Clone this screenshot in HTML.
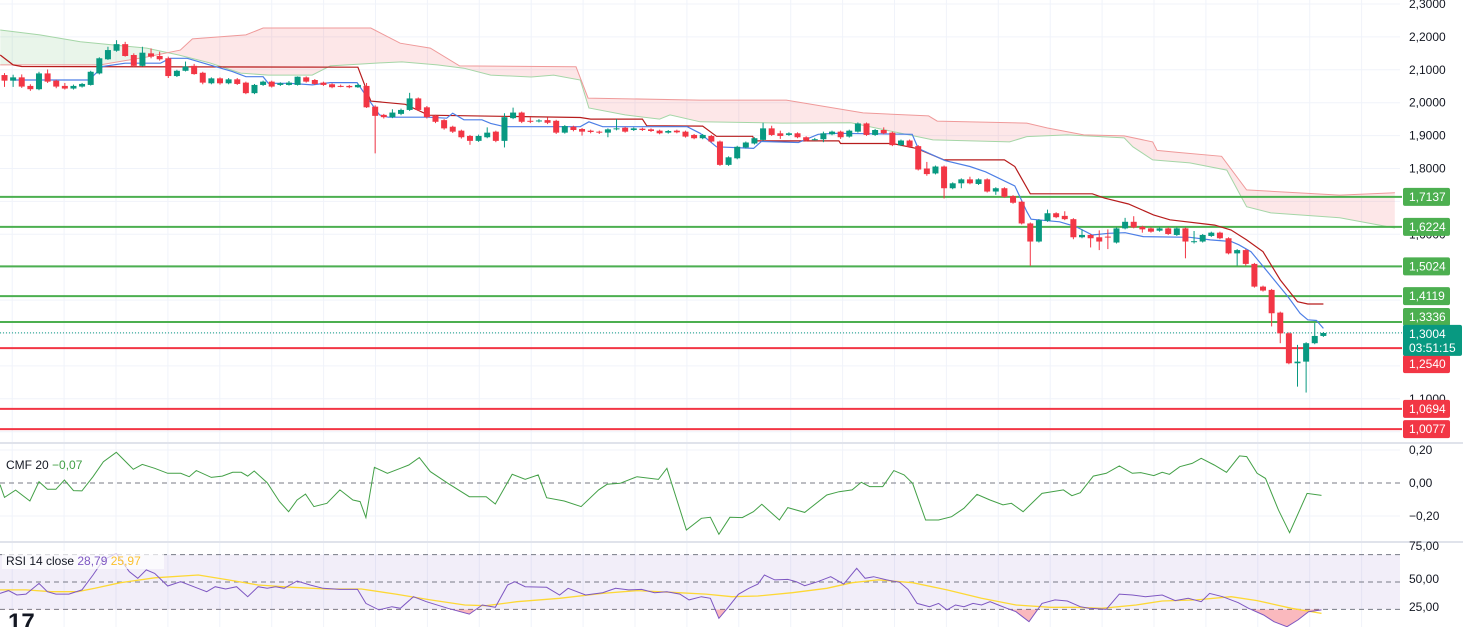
<!DOCTYPE html>
<html><head><meta charset="utf-8"><style>
html,body{margin:0;padding:0;background:#fff;width:1463px;height:627px;overflow:hidden}
svg{display:block;font-family:"Liberation Sans",sans-serif}
</style></head><body>
<svg id="chart" width="1463" height="627" viewBox="0 0 1463 627" xmlns="http://www.w3.org/2000/svg">
<defs>
<clipPath id="mainClip"><rect x="0" y="0" width="1400" height="443"/></clipPath>
<clipPath id="cmfClip"><rect x="0" y="444" width="1400" height="98"/></clipPath>
<clipPath id="rsiClip"><rect x="0" y="543" width="1400" height="84"/></clipPath>
</defs>
<g id="grid"></g>
<g id="cloud" clip-path="url(#mainClip)"></g>
<g id="levels"></g>
<g id="lines" clip-path="url(#mainClip)"></g>
<g id="candles" clip-path="url(#mainClip)"></g>
<g id="cmf"></g>
<g id="rsi"></g>
<g id="axis"></g>
<text x="6" y="469" font-size="12" fill="#131722">CMF 20 <tspan fill="#43a047">−0,07</tspan></text>
<rect x="2" y="551" width="162" height="18" fill="#fff" opacity="0.7"/>
<text x="6" y="565" font-size="12" fill="#131722">RSI 14 close <tspan fill="#7e57c2">28,79</tspan> <tspan fill="#fbc02d">25,97</tspan></text>
<text x="8" y="630" font-size="24" font-weight="bold" fill="#131722">17</text>
</svg>
<script>
const O=[2.084,2.067,2.077,2.051,2.041,2.089,2.067,2.051,2.043,2.049,2.054,2.089,2.132,2.158,2.178,2.145,2.112,2.150,2.142,2.135,2.081,2.097,2.112,2.091,2.059,2.074,2.059,2.071,2.061,2.029,2.054,2.064,2.054,2.054,2.054,2.077,2.069,2.061,2.056,2.051,2.051,2.047,2.051,1.988,1.963,1.956,1.966,1.978,2.013,1.986,1.960,1.947,1.927,1.915,1.899,1.884,1.895,1.912,1.884,1.953,1.970,1.945,1.945,1.947,1.945,1.909,1.927,1.920,1.915,1.912,1.909,1.919,1.924,1.917,1.921,1.919,1.915,1.909,1.915,1.912,1.902,1.892,1.899,1.882,1.811,1.831,1.864,1.876,1.887,1.922,1.907,1.902,1.907,1.895,1.889,1.889,1.904,1.912,1.897,1.912,1.937,1.902,1.917,1.909,1.871,1.885,1.868,1.800,1.785,1.806,1.740,1.755,1.767,1.753,1.767,1.730,1.740,1.716,1.699,1.633,1.578,1.641,1.664,1.656,1.646,1.591,1.598,1.591,1.593,1.575,1.618,1.638,1.623,1.618,1.611,1.618,1.598,1.618,1.578,1.578,1.595,1.605,1.588,1.542,1.552,1.510,1.441,1.431,1.362,1.299,1.208,1.213,1.269,1.291];
const C=[2.067,2.077,2.049,2.041,2.089,2.064,2.049,2.043,2.051,2.057,2.094,2.135,2.160,2.178,2.142,2.112,2.152,2.140,2.132,2.081,2.097,2.110,2.087,2.061,2.074,2.059,2.071,2.057,2.029,2.054,2.064,2.049,2.059,2.061,2.079,2.064,2.057,2.054,2.047,2.050,2.047,2.054,1.986,1.960,1.956,1.970,1.978,2.013,1.978,1.956,1.942,1.922,1.912,1.895,1.884,1.899,1.909,1.884,1.956,1.970,1.942,1.944,1.946,1.939,1.909,1.929,1.917,1.912,1.911,1.909,1.919,1.922,1.912,1.922,1.917,1.914,1.907,1.914,1.910,1.897,1.892,1.902,1.882,1.811,1.834,1.866,1.879,1.892,1.922,1.902,1.899,1.907,1.895,1.885,1.889,1.907,1.912,1.895,1.915,1.937,1.902,1.917,1.907,1.871,1.885,1.866,1.797,1.783,1.806,1.740,1.755,1.767,1.755,1.767,1.730,1.740,1.714,1.696,1.633,1.578,1.643,1.664,1.652,1.646,1.591,1.598,1.588,1.578,1.592,1.618,1.638,1.621,1.615,1.608,1.618,1.601,1.618,1.578,1.579,1.598,1.605,1.588,1.542,1.552,1.510,1.441,1.429,1.360,1.299,1.208,1.213,1.269,1.291,1.300];
const H=[2.090,2.085,2.086,2.056,2.094,2.101,2.070,2.060,2.055,2.060,2.097,2.138,2.170,2.190,2.185,2.150,2.170,2.165,2.155,2.140,2.100,2.125,2.118,2.094,2.077,2.077,2.075,2.075,2.064,2.057,2.067,2.067,2.062,2.066,2.080,2.080,2.072,2.064,2.059,2.055,2.054,2.058,2.060,1.992,1.966,1.980,1.982,2.030,2.016,1.990,1.963,1.950,1.930,1.918,1.902,1.903,1.925,1.915,1.968,1.985,1.973,1.955,1.950,1.955,1.948,1.932,1.930,1.923,1.918,1.915,1.922,1.950,1.927,1.925,1.924,1.922,1.918,1.917,1.918,1.915,1.905,1.905,1.902,1.885,1.837,1.869,1.882,1.895,1.939,1.930,1.915,1.910,1.910,1.898,1.893,1.912,1.915,1.915,1.918,1.940,1.940,1.920,1.925,1.912,1.888,1.888,1.871,1.820,1.809,1.809,1.758,1.770,1.775,1.770,1.770,1.743,1.743,1.719,1.702,1.636,1.646,1.675,1.667,1.670,1.649,1.615,1.601,1.612,1.615,1.621,1.650,1.655,1.626,1.621,1.621,1.621,1.621,1.621,1.610,1.601,1.608,1.608,1.591,1.555,1.555,1.513,1.444,1.434,1.365,1.302,1.264,1.272,1.331,1.303];
const L=[2.048,2.048,2.045,2.036,2.038,2.060,2.044,2.040,2.040,2.046,2.052,2.086,2.130,2.155,2.140,2.108,2.110,2.135,2.128,2.075,2.078,2.095,2.085,2.056,2.056,2.055,2.056,2.054,2.026,2.026,2.051,2.046,2.051,2.052,2.052,2.061,2.054,2.051,2.044,2.047,2.044,2.045,1.984,1.846,1.952,1.953,1.962,1.975,1.975,1.952,1.938,1.918,1.908,1.891,1.872,1.881,1.892,1.880,1.864,1.950,1.938,1.938,1.940,1.935,1.905,1.906,1.913,1.900,1.907,1.905,1.895,1.916,1.909,1.914,1.914,1.911,1.904,1.906,1.907,1.894,1.889,1.889,1.879,1.808,1.808,1.828,1.861,1.873,1.884,1.899,1.890,1.899,1.892,1.882,1.886,1.880,1.901,1.890,1.894,1.909,1.899,1.899,1.904,1.868,1.868,1.863,1.794,1.778,1.782,1.709,1.737,1.740,1.752,1.750,1.727,1.720,1.711,1.693,1.630,1.504,1.575,1.638,1.649,1.643,1.585,1.588,1.560,1.552,1.555,1.572,1.615,1.618,1.605,1.605,1.608,1.598,1.595,1.527,1.572,1.575,1.592,1.585,1.539,1.505,1.505,1.438,1.426,1.320,1.269,1.205,1.137,1.119,1.266,1.288];

const tenkanIdx=[1,9.8,11.4,14,18.1,19.2,21.2,23.8,26.4,28,30,30.6,33.1,35.7,37.8,40.9,42.5,43.5,44.5,49.2,51.3,52,53.3,55.4,56.4,58,66.8,67.8,69.4,79.2,80.7,82.6,86.9,87.8,92.1,94.4,96.3,105.3,106,109.1,112,113.8,117.2,118.6,119.1,122.4,124.3,126.2,128.1,130,132.1,137.5,139.9,142.3,143.2,144.6,147,148.9,150.3,151.2,152.2,153];
const tenkanVal=[2.069,2.069,2.110,2.120,2.120,2.135,2.135,2.115,2.095,2.079,2.079,2.059,2.059,2.054,2.061,2.061,2.000,1.963,1.956,1.956,1.953,1.968,1.948,1.948,1.937,1.927,1.927,1.942,1.927,1.927,1.907,1.866,1.861,1.882,1.879,1.904,1.907,1.904,1.861,1.824,1.806,1.790,1.747,1.669,1.646,1.638,1.623,1.598,1.603,1.605,1.593,1.591,1.583,1.578,1.568,1.547,1.471,1.410,1.360,1.340,1.338,1.314];
const kijunIdx=[-0.5,1,2,41,42.5,46.5,49.2,66.8,68,74,74.5,81,82.6,86.8,87,96.8,97,103,105.8,109,116,117.2,119,126.2,127.6,130.4,133.3,135.2,140.4,142.3,144.1,146,148,150,151.2,153];
const kijunVal=[2.145,2.115,2.110,2.108,2.005,1.995,1.962,1.955,1.950,1.950,1.930,1.929,1.898,1.898,1.884,1.884,1.876,1.876,1.861,1.826,1.826,1.806,1.723,1.723,1.710,1.692,1.659,1.644,1.628,1.613,1.583,1.547,1.461,1.395,1.388,1.388];
const spanAIdx=[-0.5,4.1,8.8,16.5,20.2,23.8,27.4,30.6,35.7,37.8,43.6,46.1,50.2,53.3,56.4,61.1,63.7,66.8,67.8,72,76,77.2,80.7,90.2,98.2,107.7,116.6,118.6,123.3,129.9,130.9,133.2,137.5,141.8,144.1,146.9,154.9,161.3];
const spanAVal=[2.221,2.206,2.185,2.166,2.145,2.121,2.090,2.084,2.084,2.112,2.121,2.124,2.115,2.105,2.084,2.078,2.084,2.069,1.984,1.963,1.950,1.963,1.942,1.938,1.939,1.887,1.881,1.897,1.902,1.893,1.866,1.826,1.817,1.795,1.684,1.665,1.650,1.619];
const spanBIdx=[-0.5,11.1,16.5,20.4,21.8,28,30,42.5,45.9,49.4,52.8,66.3,67.7,80.7,90.7,99.6,107.2,108.2,118.6,121,125.2,129.9,133.2,133.7,136.1,141.2,144.1,154.9,161.3];
const spanBVal=[2.115,2.115,2.139,2.160,2.194,2.206,2.227,2.227,2.181,2.166,2.112,2.109,2.014,2.008,2.008,1.969,1.960,1.944,1.938,1.923,1.902,1.899,1.881,1.855,1.849,1.837,1.735,1.719,1.726];

const greenLevels=[1.7137,1.6224,1.5024,1.4119,1.3336];
const redLevels=[1.2540,1.0694,1.0077];
const greenLabels=["1,7137","1,6224","1,5024","1,4119","1,3336"];
const redLabels=["1,2540","1,0694","1,0077"];
const lastPrice=1.3004;
const priceTicks=[2.3,2.2,2.1,2.0,1.9,1.8,1.6,1.1];
const priceTickLabels=["2,3000","2,2000","2,1000","2,0000","1,9000","1,8000","1,6000","1,1000"];

const cmfT=[0,0.7,2.4,4.6,6.0,7.3,8.6,9.9,11.3,12.6,14.3,15.9,17.9,20.5,21.9,23.8,25.8,27.8,29.1,30.2,32.5,34.2,35.8,37.1,38.1,39.1,41.1,43.0,44.4,45.7,47.0,48.3,50.3,52.3,54.3,55.4,56.3,57.6,59.6,61.6,62.9,64.5,66.2,68.9,72.2,74.8,76.2,78.8,80.8,82.8,84.1,86.8,89.4,92.1,93.4,95.4,98.0,101.3,102.6,105.6,107.9,109.3,110.6,112.3,114.2,115.9,117.2,119.9,121.2,123.8,127.2,129.1,131.1,132.5,133.8,135.8,137.5,139.1,140.4,142.4,144.4,146.4,148.3,150.3,152.3,154.3,155.6,157.4,160.3,163.6,164.9,166.2,168.2,170.2,172.2,174.2,175.5,177.5,178.8,179.9,181.5,183.4,184.8,186.8,188.7,190.7,191.8,193.4,194.7,196.7,198.4,201.1,203.3];
const cmfVal=[-0.01,-0.087,-0.043,-0.109,0.008,-0.038,-0.038,0.018,-0.046,-0.048,0.038,0.129,0.186,0.083,0.113,0.089,0.059,0.059,0.038,0.075,0.034,0.042,0.065,0.065,0.042,0.073,0.002,-0.113,-0.174,-0.103,-0.067,-0.143,-0.123,-0.042,-0.103,-0.113,-0.21,0.095,0.059,0.089,0.109,0.154,0.069,-0.002,-0.083,-0.083,-0.127,0.053,0.022,0.049,-0.089,-0.109,-0.143,-0.042,-0.008,-0.002,0.038,0.022,0.089,-0.285,-0.214,-0.208,-0.311,-0.208,-0.21,-0.174,-0.129,-0.224,-0.149,-0.178,-0.073,-0.053,-0.042,0.004,-0.022,-0.022,0.075,0.049,-0.002,-0.224,-0.224,-0.204,-0.153,-0.069,-0.103,-0.133,-0.123,-0.174,-0.063,-0.042,-0.077,-0.059,0.042,0.059,0.103,0.059,0.063,0.045,0.065,0.053,0.099,0.119,0.15,0.109,0.065,0.164,0.16,0.059,0.028,-0.164,-0.301,-0.063,-0.075];

const rsiT=[0,1.3,2.6,4,6,7.3,8.6,10.6,12.6,14.3,15.9,17.9,19.9,21.2,22.5,23.8,25.8,27.8,29.8,31.8,33.1,34.7,36.4,38.1,39.7,41.1,42.4,43.7,45.7,47.7,49.7,52.3,55,56.3,58.3,60.3,61.6,63.6,65.6,68.9,72.2,74.2,76.2,78.1,79.2,80.8,84.1,86.1,87.4,90.1,92.7,94.7,96.7,98.7,100.7,102.6,104.6,106,107.9,109.3,110.6,111.9,113.6,115.2,116.6,117.6,119.2,121.2,122.5,123.8,125.8,127.8,129.8,131.8,133.1,134.4,136.4,138.4,139.7,141.1,143.0,144.4,145.7,147.0,148.3,149.7,151.0,152.3,153.6,154.9,156.3,158.3,160.3,162.3,164.2,166.2,167.5,170.2,172.2,174.2,176.2,178.8,180.8,182.8,184.8,186.1,188.1,190.5,192.1,194.4,196.0,198.0,199.7,201.3,203.3];
const rsiVal=[41.7,43.7,40.5,41.2,49.0,42.9,41.2,41.2,44.2,55.1,66.1,70.9,57.5,52.7,58.8,56.3,47.1,50.2,46.6,42.9,46.6,44.9,46.6,39.3,46.6,45.4,46.6,45.4,50.7,47.8,45.4,44.6,44.6,34.4,29.6,32.0,30.8,39.3,35.6,30.8,26.6,33.2,31.5,47.8,50.2,46.6,46.1,40.5,45.4,40.5,42.2,45.4,44.2,44.6,42.2,42.9,41.2,36.9,39.3,38.1,23.5,30.8,41.0,45.4,48.5,55.1,51.5,51.9,50.2,47.3,50.2,53.9,48.5,60.0,52.7,53.9,51.5,49.8,44.6,34.4,32.0,34.4,29.6,33.2,32.0,34.4,33.2,35.6,33.2,30.8,28.3,21.0,34.4,36.9,36.1,32.0,30.8,30.1,41.2,40.5,39.3,40.5,36.4,38.1,35.6,41.7,39.3,34.9,30.8,25.9,21.0,17.4,22.3,28.3,29.6];
const rsiMaT=[0,4,7.9,11.9,14.6,18.5,23.8,30.5,35.1,39.7,45.0,50.3,55.6,60.9,66.2,71.5,74.8,79.5,86.1,92.7,98.0,103.3,108.6,112.6,116.6,121.9,127.2,131.1,135.1,140.4,145.7,151.0,156.3,161.6,165.6,169.5,174.8,178.8,184.1,189.4,193.4,198.7,203.3];
const rsiMaVal=[44.2,44.2,42.9,42.9,45.4,49.5,53.1,55.1,51.5,47.8,46.1,44.9,44.9,41.2,36.9,33.2,32.7,35.6,38.1,41.7,43.7,42.5,41.2,39.3,39.8,42.2,45.4,49.5,51.5,49.5,44.2,38.1,33.2,31.5,31.5,30.8,33.2,36.1,36.9,39.3,36.4,30.8,27.1];

const NS='http://www.w3.org/2000/svg';
function mk(tag,attrs,parent){const e=document.createElementNS(NS,tag);for(const k in attrs)e.setAttribute(k,attrs[k]);parent.appendChild(e);return e;}
const xI=i=>4.5+i*8.62;
const yP=p=>4+(2.3-p)*329;
const xT=t=>t*6.5;
const yC=v=>483-v*165;
const yR=v=>582-(v-50)*1.37;

const grid=document.getElementById('grid');
for(let k=0;k<27;k++){const x=12.2+k*51.9;
 const g=mk('line',{x1:x,y1:0,x2:x,y2:627,stroke:'#f0f3fa','stroke-width':1},grid);
 }
for(let p=2.3;p>0.99;p-=0.1){const y=yP(p);
 const g=mk('line',{x1:0,y1:y,x2:1400,y2:y,stroke:'#f0f3fa','stroke-width':1},grid);
 }
[443,542].forEach(y=>{const s=mk('line',{x1:0,y1:y,x2:1463,y2:y,stroke:'#e0e3eb','stroke-width':2},grid);
 });

const cloud=document.getElementById('cloud');
function pts(ix,vals){return ix.map((t,k)=>xI(t).toFixed(1)+','+yP(vals[k]).toFixed(1));}
const A=pts(spanAIdx,spanAVal),B=pts(spanBIdx,spanBVal);
const x0=xI(-0.5),x1=xI(161.3);
const defs=document.querySelector('defs');
mk('path',{d:'M'+x0+',0 L'+A.join(' L')+' L'+x1+',0 Z'},mk('clipPath',{id:'aboveA'},defs));
mk('path',{d:'M'+x0+',443 L'+A.join(' L')+' L'+x1+',443 Z'},mk('clipPath',{id:'belowA'},defs));
const redFill=mk('path',{d:'M'+x0+',443 L'+B.join(' L')+' L'+x1+',443 Z',fill:'rgba(242,54,69,0.12)','clip-path':'url(#aboveA)'},cloud);

const greenFill=mk('path',{d:'M'+x0+',0 L'+B.join(' L')+' L'+x1+',0 Z',fill:'rgba(76,175,80,0.12)','clip-path':'url(#belowA)'},cloud);

const la=mk('polyline',{points:A.join(' '),fill:'none',stroke:'#a5d6a7','stroke-width':1},cloud);

const lb=mk('polyline',{points:B.join(' '),fill:'none',stroke:'#ef9a9a','stroke-width':1},cloud);


const lv=document.getElementById('levels');
greenLevels.forEach(p=>{const l=mk('line',{x1:0,y1:yP(p),x2:1402,y2:yP(p),stroke:'#4caf50','stroke-width':2},lv);
 });
redLevels.forEach(p=>{const l=mk('line',{x1:0,y1:yP(p),x2:1402,y2:yP(p),stroke:'#f23645','stroke-width':2},lv);
 });
const lp=mk('line',{x1:0,y1:yP(lastPrice),x2:1402,y2:yP(lastPrice),stroke:'#089981','stroke-width':1,'stroke-dasharray':'1,2'},lv);


const ln=document.getElementById('lines');
const kj=mk('polyline',{points:pts(kijunIdx,kijunVal).join(' '),fill:'none',stroke:'#b71c1c','stroke-width':1.2},ln);

const tk=mk('polyline',{points:pts(tenkanIdx,tenkanVal).join(' '),fill:'none',stroke:'#4d7fe6','stroke-width':1.2},ln);


const cg=document.getElementById('candles');
for(let i=0;i<O.length;i++){
 const up=C[i]>=O[i],col=up?'#089981':'#f23645',x=xI(i);
 const w=mk('line',{x1:x,y1:yP(H[i]),x2:x,y2:yP(L[i]),stroke:col,'stroke-width':1},cg);
 
 const top=yP(Math.max(O[i],C[i])),bot=yP(Math.min(O[i],C[i]));
 const b=mk('rect',{x:x-3,y:top,width:6,height:Math.max(1,bot-top),fill:col},cg);
 
}

const cm=document.getElementById('cmf');
[0.2,-0.2].forEach(v=>{const l=mk('line',{x1:0,y1:yC(v),x2:1400,y2:yC(v),stroke:'#f0f3fa'},cm);
 });
const cz=mk('line',{x1:0,y1:yC(0),x2:1400,y2:yC(0),stroke:'#787b86','stroke-dasharray':'5,4'},cm);

const cl=mk('polyline',{points:cmfT.map((t,k)=>xT(t).toFixed(1)+','+yC(cmfVal[k]).toFixed(1)).join(' '),fill:'none',stroke:'#43a047','stroke-width':1,'clip-path':'url(#cmfClip)'},cm);


const rs=document.getElementById('rsi');
const band=mk('rect',{x:0,y:yR(70),width:1400,height:yR(30)-yR(70),fill:'rgba(126,87,194,0.1)'},rs);

[70,50,30].forEach(v=>{const l=mk('line',{x1:0,y1:yR(v),x2:1400,y2:yR(v),stroke:'#787b86','stroke-dasharray':'5,4'},rs);
 });
mk('rect',{x:0,y:yR(30),width:1400,height:40},mk('clipPath',{id:'below30'},defs));
const rp=rsiT.map((t,k)=>xT(t).toFixed(1)+','+yR(rsiVal[k]).toFixed(1));
const os=mk('path',{d:'M0,'+yR(30)+' L'+rp.join(' L')+' L'+xT(rsiT[rsiT.length-1])+','+yR(30)+' Z',fill:'rgba(242,54,69,0.35)','clip-path':'url(#below30)'},rs);

const ma=mk('polyline',{points:rsiMaT.map((t,k)=>xT(t).toFixed(1)+','+yR(rsiMaVal[k]).toFixed(1)).join(' '),fill:'none',stroke:'#fdd835','stroke-width':1.3,'clip-path':'url(#rsiClip)'},rs);

const rl=mk('polyline',{points:rp.join(' '),fill:'none',stroke:'#7e57c2','stroke-width':1,'clip-path':'url(#rsiClip)'},rs);


const ax=document.getElementById('axis');
function txt(x,y,s,col,parent,name){const t=mk('text',{x:x,y:y,'font-size':12,fill:col},parent);t.textContent=s;
 return t;}
priceTicks.forEach((p,k)=>txt(1409,yP(p)+4,priceTickLabels[k],'#131722',ax,'price-tick-label'));
function box(p,label,col,name,shift){const y=yP(p)+shift;
 const r=mk('rect',{x:1403,y:y-9,width:47,height:18,rx:2,fill:col},ax);
 
 txt(1409,y+4,label,'#fff',ax,name+'-text');}
greenLevels.forEach((p,k)=>box(p,greenLabels[k],'#4caf50','resistance-label',k===4?-5:0));
redLevels.forEach((p,k)=>box(p,redLabels[k],'#f23645','support-label',k===0?16:0));
const lb2=mk('rect',{x:1403,y:yP(lastPrice)-8,width:59,height:31,rx:2,fill:'#089981'},ax);

txt(1409,yP(lastPrice)+5,'1,3004','#fff',ax,'last-price-text');
txt(1409,yP(lastPrice)+19,'03:51:15','#fff',ax,'countdown-text');
txt(1409,yC(0.2)+4,'0,20','#131722',ax,'cmf-tick-label');
txt(1409,yC(0)+4,'0,00','#131722',ax,'cmf-tick-label');
txt(1409,yC(-0.2)+4,'−0,20','#131722',ax,'cmf-tick-label');
txt(1409,550,'75,00','#131722',ax,'rsi-tick-label');
txt(1409,583,'50,00','#131722',ax,'rsi-tick-label');
txt(1409,611,'25,00','#131722',ax,'rsi-tick-label');
</script>
</body></html>
